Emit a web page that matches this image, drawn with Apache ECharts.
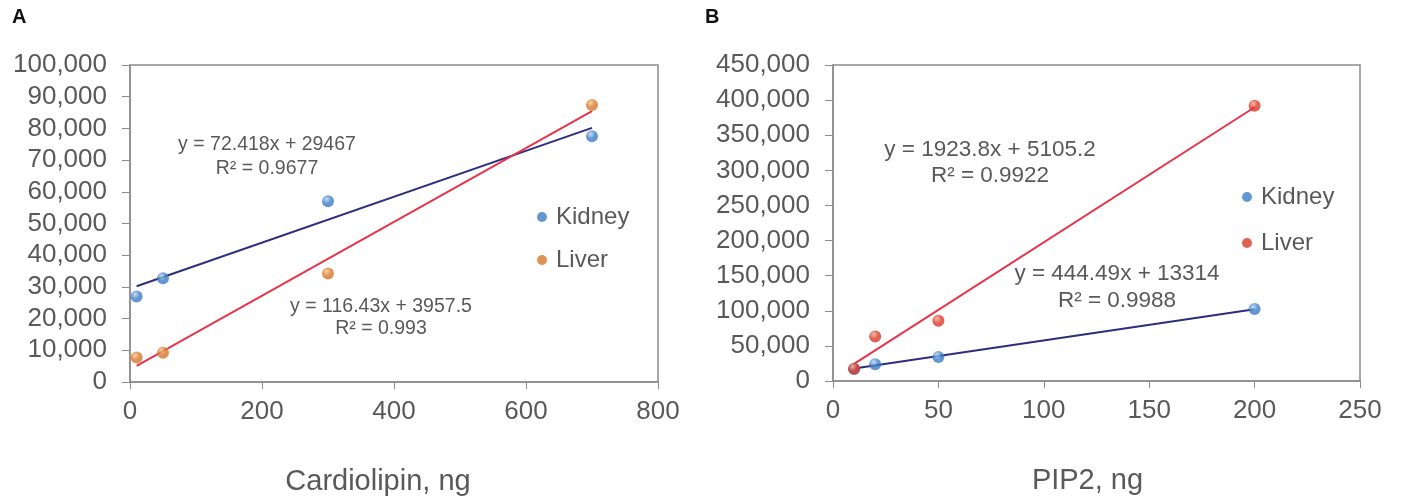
<!DOCTYPE html>
<html>
<head>
<meta charset="utf-8">
<script src="https://cdn.jsdelivr.net/npm/echarts@6/dist/echarts.min.js"></script>
<style>
  html, body { margin: 0; padding: 0; background: #fff; }
  #chart { width: 1401px; height: 502px; }
</style>
</head>
<body>
<div id="chart"></div>
<script>
// Panel A: cardiolipin standard curve
var cardioX = [10, 50, 300, 700];
var cardioKidney = [27000, 32700, 57000, 77500];
var cardioLiver = [7700, 9200, 34200, 87400];
// trendline y = a*x + b, as printed on the chart
var cardioKidneyFit = [72.418, 29467];
var cardioLiverFit = [116.43, 3957.5];

// Panel B: PIP2 standard curve
var pipX = [10, 20, 50, 200];
var pipKidney = [17000, 24000, 34000, 102400];
var pipLiver = [17500, 63500, 85700, 392000];
var pipKidneyFit = [444.49, 13314];
var pipLiverFit = [1923.8, 5105.2];

var font = "'Liberation Sans', Arial, sans-serif";
var grayText = '#595959';
var frame = '#8c8c8c';

function pairs(xs, ys) {
  return xs.map(function(x, i) { return [x, ys[i]]; });
}
function fitLine(xs, fit) {
  var x0 = xs[0], x1 = xs[xs.length - 1];
  return [[x0, fit[0] * x0 + fit[1]], [x1, fit[0] * x1 + fit[1]]];
}
function ball(base, light) {
  return {
    type: 'radial', x: 0.38, y: 0.32, r: 0.7,
    colorStops: [
      { offset: 0, color: light },
      { offset: 0.55, color: base },
      { offset: 1, color: base }
    ]
  };
}
function fmt(v) { return Number(v).toLocaleString('en-US'); }

var blue = '#3d7cc4', blueLight = '#b5d4f2';
var orange = '#d4782a', orangeLight = '#f6c48e';
var red = '#d9392a', redLight = '#f7a48f';
var navy = '#2c2f7c', lineRed = '#e8334a';

function xAxis(idx, max, interval, shift) {
  return {
    gridIndex: idx, type: 'value', min: 0, max: max, interval: interval,
    axisLine: { show: true, lineStyle: { color: frame, width: 1.5 } },
    axisTick: { show: true, inside: false, length: 7, lineStyle: { color: frame } },
    axisLabel: { color: grayText, fontSize: 26, fontFamily: font, margin: 17 },
    splitLine: { show: false },
    nameLocation: 'middle', nameGap: 85,
    nameTextStyle: { color: grayText, fontSize: 29, fontFamily: font, padding: [0, shift, 0, 0] }
  };
}
function yAxis(idx, max, interval) {
  return {
    gridIndex: idx, type: 'value', min: 0, max: max, interval: interval,
    axisLine: { show: true, lineStyle: { color: frame, width: 1.5 } },
    axisTick: { show: true, inside: false, length: 8, lineStyle: { color: frame } },
    axisLabel: { color: grayText, fontSize: 26, fontFamily: font, margin: 23, formatter: fmt },
    splitLine: { show: false }
  };
}

var chart = echarts.init(document.getElementById('chart'), null, { renderer: 'canvas' });
chart.setOption({
  animation: false,
  backgroundColor: '#fff',
  grid: [
    { left: 130, right: 743, top: 65, bottom: 120, show: true, borderColor: frame, borderWidth: 1.5 },
    { left: 833, right: 41, top: 65, bottom: 121, show: true, borderColor: frame, borderWidth: 1.5 }
  ],
  xAxis: [
    Object.assign(xAxis(0, 800, 200, 32), { name: 'Cardiolipin, ng' }),
    Object.assign(xAxis(1, 250, 50, 18), { name: 'PIP2, ng' })
  ],
  yAxis: [yAxis(0, 100000, 10000), yAxis(1, 450000, 50000)],
  legend: [
    {
      orient: 'vertical', left: 537, top: 205, itemWidth: 10, itemHeight: 10, itemGap: 19, padding: 0,
      icon: 'circle', textStyle: { color: grayText, fontSize: 24, fontFamily: font, padding: [0, 0, 0, 4] },
      data: [{ name: 'Kidney', itemStyle: { color: blue } }, { name: 'Liver', itemStyle: { color: orange } }]
    },
    {
      orient: 'vertical', left: 1242, top: 185, itemWidth: 10, itemHeight: 10, itemGap: 22, padding: 0,
      icon: 'circle', textStyle: { color: grayText, fontSize: 24, fontFamily: font, padding: [0, 0, 0, 4] },
      data: [{ name: 'Kidney', itemStyle: { color: blue } }, { name: 'Liver', itemStyle: { color: red } }]
    }
  ],
  series: [
    { name: 'Kidney fit A', type: 'line', xAxisIndex: 0, yAxisIndex: 0, data: fitLine(cardioX, cardioKidneyFit),
      symbol: 'none', lineStyle: { color: navy, width: 2 }, z: 2 },
    { name: 'Liver fit A', type: 'line', xAxisIndex: 0, yAxisIndex: 0, data: fitLine(cardioX, cardioLiverFit),
      symbol: 'none', lineStyle: { color: lineRed, width: 2 }, z: 2 },
    { name: 'Kidney', type: 'scatter', xAxisIndex: 0, yAxisIndex: 0, data: pairs(cardioX, cardioKidney),
      symbolSize: 12, itemStyle: { color: ball(blue, blueLight) }, z: 3 },
    { name: 'Liver', type: 'scatter', xAxisIndex: 0, yAxisIndex: 0, data: pairs(cardioX, cardioLiver),
      symbolSize: 12, itemStyle: { color: ball(orange, orangeLight) }, z: 3 },

    { name: 'Kidney fit B', type: 'line', xAxisIndex: 1, yAxisIndex: 1, data: fitLine(pipX, pipKidneyFit),
      symbol: 'none', lineStyle: { color: navy, width: 2 }, z: 2 },
    { name: 'Liver fit B', type: 'line', xAxisIndex: 1, yAxisIndex: 1, data: fitLine(pipX, pipLiverFit),
      symbol: 'none', lineStyle: { color: lineRed, width: 2 }, z: 2 },
    { name: 'Kidney', type: 'scatter', xAxisIndex: 1, yAxisIndex: 1, data: pairs(pipX, pipKidney),
      symbolSize: 12, itemStyle: { color: ball(blue, blueLight) }, z: 3 },
    { name: 'Liver', type: 'scatter', xAxisIndex: 1, yAxisIndex: 1, data: pairs(pipX, pipLiver),
      symbolSize: 12, itemStyle: { color: ball(red, redLight) }, z: 4 }
  ],
  graphic: [
    { type: 'text', left: 12, top: 7, style: { text: 'A', fill: '#111', font: 'bold 20px ' + font } },
    { type: 'text', left: 705, top: 7, style: { text: 'B', fill: '#111', font: 'bold 20px ' + font } },

    { type: 'text', x: 267, y: 157, style: { text: 'y = 72.418x + 29467\nR² = 0.9677', align: 'center', verticalAlign: 'middle',
      fill: grayText, font: '19.5px ' + font, lineHeight: 24 } },
    { type: 'text', x: 381, y: 318, style: { text: 'y = 116.43x + 3957.5\nR² = 0.993', align: 'center', verticalAlign: 'middle',
      fill: grayText, font: '19.5px ' + font, lineHeight: 22 } },
    { type: 'text', x: 990, y: 163, style: { text: 'y = 1923.8x + 5105.2\nR² = 0.9922', align: 'center', verticalAlign: 'middle',
      fill: grayText, font: '22.5px ' + font, lineHeight: 26 } },
    { type: 'text', x: 1117, y: 287, style: { text: 'y = 444.49x + 13314\nR² = 0.9988', align: 'center', verticalAlign: 'middle',
      fill: grayText, font: '22.5px ' + font, lineHeight: 27 } }
  ]
});
window.addEventListener('resize', function() { chart.resize(); });
</script>
</body>
</html>
